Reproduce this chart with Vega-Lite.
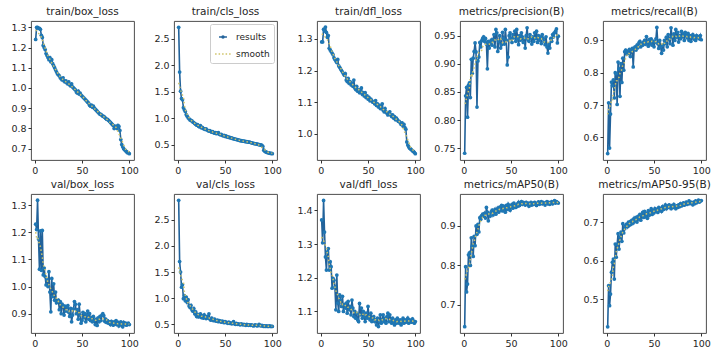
{
"$schema":"https://vega.github.io/schema/vega-lite/v6.json",
"background":"white",
"padding":{"left":10,"top":6,"right":5,"bottom":5},
"config":{"font":"DejaVu Sans","view":{"stroke":"#3a3a3a","strokeWidth":0.9},"axis":{"domain":false,"grid":false,"ticks":true,"tickSize":3,"tickColor":"#333333","labelFont":"DejaVu Sans","labelFontSize":9.5,"labelColor":"#262626","labelPadding":2,"labelFlush":false,"labelOverlap":false},"title":{"font":"DejaVu Sans","fontSize":10.5,"fontWeight":"normal","color":"#262626","offset":4,"anchor":"middle"}},
"datasets":{
"tbox":[{"epoch":1,"results":1.24},{"epoch":2,"results":1.30},{"epoch":3,"results":1.30},{"epoch":4,"results":1.295},{"epoch":5,"results":1.295},{"epoch":6,"results":1.29},{"epoch":7,"results":1.26},{"epoch":8,"results":1.25},{"epoch":9,"results":1.21},{"epoch":10,"results":1.20},{"epoch":11,"results":1.19},{"epoch":12,"results":1.17},{"epoch":13,"results":1.16},{"epoch":14,"results":1.15},{"epoch":15,"results":1.14},{"epoch":16,"results":1.15},{"epoch":17,"results":1.13},{"epoch":18,"results":1.14},{"epoch":19,"results":1.12},{"epoch":20,"results":1.11},{"epoch":21,"results":1.10},{"epoch":22,"results":1.09},{"epoch":23,"results":1.08},{"epoch":24,"results":1.07},{"epoch":25,"results":1.065},{"epoch":26,"results":1.06},{"epoch":27,"results":1.05},{"epoch":28,"results":1.045},{"epoch":29,"results":1.04},{"epoch":30,"results":1.05},{"epoch":31,"results":1.035},{"epoch":32,"results":1.03},{"epoch":33,"results":1.035},{"epoch":34,"results":1.025},{"epoch":35,"results":1.02},{"epoch":36,"results":1.03},{"epoch":37,"results":1.015},{"epoch":38,"results":1.01},{"epoch":39,"results":1.02},{"epoch":40,"results":1.005},{"epoch":41,"results":1.00},{"epoch":42,"results":0.995},{"epoch":43,"results":0.99},{"epoch":44,"results":0.98},{"epoch":45,"results":0.975},{"epoch":46,"results":0.985},{"epoch":47,"results":0.97},{"epoch":48,"results":0.975},{"epoch":49,"results":0.965},{"epoch":50,"results":0.96},{"epoch":51,"results":0.955},{"epoch":52,"results":0.95},{"epoch":53,"results":0.945},{"epoch":54,"results":0.94},{"epoch":55,"results":0.935},{"epoch":56,"results":0.93},{"epoch":57,"results":0.925},{"epoch":58,"results":0.915},{"epoch":59,"results":0.91},{"epoch":60,"results":0.915},{"epoch":61,"results":0.905},{"epoch":62,"results":0.91},{"epoch":63,"results":0.90},{"epoch":64,"results":0.895},{"epoch":65,"results":0.89},{"epoch":66,"results":0.885},{"epoch":67,"results":0.88},{"epoch":68,"results":0.875},{"epoch":69,"results":0.87},{"epoch":70,"results":0.87},{"epoch":71,"results":0.865},{"epoch":72,"results":0.86},{"epoch":73,"results":0.86},{"epoch":74,"results":0.855},{"epoch":75,"results":0.85},{"epoch":76,"results":0.845},{"epoch":77,"results":0.845},{"epoch":78,"results":0.84},{"epoch":79,"results":0.835},{"epoch":80,"results":0.83},{"epoch":81,"results":0.825},{"epoch":82,"results":0.82},{"epoch":83,"results":0.815},{"epoch":84,"results":0.80},{"epoch":85,"results":0.81},{"epoch":86,"results":0.81},{"epoch":87,"results":0.80},{"epoch":88,"results":0.815},{"epoch":89,"results":0.81},{"epoch":90,"results":0.79},{"epoch":91,"results":0.745},{"epoch":92,"results":0.72},{"epoch":93,"results":0.71},{"epoch":94,"results":0.70},{"epoch":95,"results":0.695},{"epoch":96,"results":0.69},{"epoch":97,"results":0.685},{"epoch":98,"results":0.68},{"epoch":99,"results":0.68},{"epoch":100,"results":0.675}],
"tcls":[{"epoch":1,"results":2.71},{"epoch":2,"results":1.87},{"epoch":3,"results":1.51},{"epoch":4,"results":1.37},{"epoch":5,"results":1.35},{"epoch":6,"results":1.20},{"epoch":7,"results":1.16},{"epoch":8,"results":1.13},{"epoch":9,"results":1.07},{"epoch":10,"results":1.04},{"epoch":11,"results":1.01},{"epoch":12,"results":0.99},{"epoch":13,"results":0.97},{"epoch":14,"results":0.96},{"epoch":15,"results":0.95},{"epoch":16,"results":0.93},{"epoch":17,"results":0.92},{"epoch":18,"results":0.90},{"epoch":19,"results":0.89},{"epoch":20,"results":0.87},{"epoch":21,"results":0.88},{"epoch":22,"results":0.85},{"epoch":23,"results":0.84},{"epoch":24,"results":0.86},{"epoch":25,"results":0.82},{"epoch":26,"results":0.83},{"epoch":27,"results":0.81},{"epoch":28,"results":0.80},{"epoch":29,"results":0.79},{"epoch":30,"results":0.80},{"epoch":31,"results":0.78},{"epoch":32,"results":0.77},{"epoch":33,"results":0.76},{"epoch":34,"results":0.77},{"epoch":35,"results":0.75},{"epoch":36,"results":0.74},{"epoch":37,"results":0.75},{"epoch":38,"results":0.73},{"epoch":39,"results":0.72},{"epoch":40,"results":0.73},{"epoch":41,"results":0.71},{"epoch":42,"results":0.72},{"epoch":43,"results":0.73},{"epoch":44,"results":0.70},{"epoch":45,"results":0.69},{"epoch":46,"results":0.70},{"epoch":47,"results":0.68},{"epoch":48,"results":0.67},{"epoch":49,"results":0.68},{"epoch":50,"results":0.66},{"epoch":51,"results":0.67},{"epoch":52,"results":0.65},{"epoch":53,"results":0.65},{"epoch":54,"results":0.64},{"epoch":55,"results":0.64},{"epoch":56,"results":0.63},{"epoch":57,"results":0.63},{"epoch":58,"results":0.62},{"epoch":59,"results":0.62},{"epoch":60,"results":0.61},{"epoch":61,"results":0.61},{"epoch":62,"results":0.60},{"epoch":63,"results":0.60},{"epoch":64,"results":0.59},{"epoch":65,"results":0.59},{"epoch":66,"results":0.58},{"epoch":67,"results":0.58},{"epoch":68,"results":0.575},{"epoch":69,"results":0.57},{"epoch":70,"results":0.57},{"epoch":71,"results":0.565},{"epoch":72,"results":0.56},{"epoch":73,"results":0.56},{"epoch":74,"results":0.555},{"epoch":75,"results":0.55},{"epoch":76,"results":0.55},{"epoch":77,"results":0.545},{"epoch":78,"results":0.54},{"epoch":79,"results":0.535},{"epoch":80,"results":0.53},{"epoch":81,"results":0.525},{"epoch":82,"results":0.52},{"epoch":83,"results":0.52},{"epoch":84,"results":0.515},{"epoch":85,"results":0.51},{"epoch":86,"results":0.505},{"epoch":87,"results":0.50},{"epoch":88,"results":0.50},{"epoch":89,"results":0.49},{"epoch":90,"results":0.47},{"epoch":91,"results":0.40},{"epoch":92,"results":0.38},{"epoch":93,"results":0.37},{"epoch":94,"results":0.36},{"epoch":95,"results":0.355},{"epoch":96,"results":0.35},{"epoch":97,"results":0.345},{"epoch":98,"results":0.34},{"epoch":99,"results":0.34},{"epoch":100,"results":0.335}],
"tdfl":[{"epoch":1,"results":1.29},{"epoch":2,"results":1.29},{"epoch":3,"results":1.33},{"epoch":4,"results":1.325},{"epoch":5,"results":1.337},{"epoch":6,"results":1.32},{"epoch":7,"results":1.305},{"epoch":8,"results":1.31},{"epoch":9,"results":1.27},{"epoch":10,"results":1.265},{"epoch":11,"results":1.26},{"epoch":12,"results":1.255},{"epoch":13,"results":1.25},{"epoch":14,"results":1.24},{"epoch":15,"results":1.235},{"epoch":16,"results":1.23},{"epoch":17,"results":1.225},{"epoch":18,"results":1.235},{"epoch":19,"results":1.215},{"epoch":20,"results":1.21},{"epoch":21,"results":1.205},{"epoch":22,"results":1.20},{"epoch":23,"results":1.195},{"epoch":24,"results":1.19},{"epoch":25,"results":1.185},{"epoch":26,"results":1.19},{"epoch":27,"results":1.17},{"epoch":28,"results":1.165},{"epoch":29,"results":1.175},{"epoch":30,"results":1.16},{"epoch":31,"results":1.165},{"epoch":32,"results":1.155},{"epoch":33,"results":1.16},{"epoch":34,"results":1.15},{"epoch":35,"results":1.17},{"epoch":36,"results":1.145},{"epoch":37,"results":1.14},{"epoch":38,"results":1.15},{"epoch":39,"results":1.135},{"epoch":40,"results":1.14},{"epoch":41,"results":1.13},{"epoch":42,"results":1.135},{"epoch":43,"results":1.145},{"epoch":44,"results":1.125},{"epoch":45,"results":1.13},{"epoch":46,"results":1.12},{"epoch":47,"results":1.13},{"epoch":48,"results":1.115},{"epoch":49,"results":1.12},{"epoch":50,"results":1.11},{"epoch":51,"results":1.115},{"epoch":52,"results":1.105},{"epoch":53,"results":1.11},{"epoch":54,"results":1.105},{"epoch":55,"results":1.10},{"epoch":56,"results":1.10},{"epoch":57,"results":1.095},{"epoch":58,"results":1.105},{"epoch":59,"results":1.09},{"epoch":60,"results":1.095},{"epoch":61,"results":1.085},{"epoch":62,"results":1.09},{"epoch":63,"results":1.08},{"epoch":64,"results":1.085},{"epoch":65,"results":1.095},{"epoch":66,"results":1.075},{"epoch":67,"results":1.07},{"epoch":68,"results":1.08},{"epoch":69,"results":1.07},{"epoch":70,"results":1.065},{"epoch":71,"results":1.06},{"epoch":72,"results":1.065},{"epoch":73,"results":1.07},{"epoch":74,"results":1.06},{"epoch":75,"results":1.055},{"epoch":76,"results":1.06},{"epoch":77,"results":1.05},{"epoch":78,"results":1.055},{"epoch":79,"results":1.045},{"epoch":80,"results":1.05},{"epoch":81,"results":1.045},{"epoch":82,"results":1.04},{"epoch":83,"results":1.04},{"epoch":84,"results":1.035},{"epoch":85,"results":1.03},{"epoch":86,"results":1.035},{"epoch":87,"results":1.025},{"epoch":88,"results":1.03},{"epoch":89,"results":1.02},{"epoch":90,"results":1.015},{"epoch":91,"results":0.975},{"epoch":92,"results":0.965},{"epoch":93,"results":0.96},{"epoch":94,"results":0.955},{"epoch":95,"results":0.953},{"epoch":96,"results":0.95},{"epoch":97,"results":0.947},{"epoch":98,"results":0.945},{"epoch":99,"results":0.942},{"epoch":100,"results":0.938}],
"prec":[{"epoch":1,"results":0.741},{"epoch":2,"results":0.843},{"epoch":3,"results":0.858},{"epoch":4,"results":0.805},{"epoch":5,"results":0.862},{"epoch":6,"results":0.866},{"epoch":7,"results":0.840},{"epoch":8,"results":0.908},{"epoch":9,"results":0.883},{"epoch":10,"results":0.910},{"epoch":11,"results":0.922},{"epoch":12,"results":0.937},{"epoch":13,"results":0.921},{"epoch":14,"results":0.823},{"epoch":15,"results":0.905},{"epoch":16,"results":0.912},{"epoch":17,"results":0.938},{"epoch":18,"results":0.930},{"epoch":19,"results":0.941},{"epoch":20,"results":0.945},{"epoch":21,"results":0.948},{"epoch":22,"results":0.940},{"epoch":23,"results":0.945},{"epoch":24,"results":0.935},{"epoch":25,"results":0.891},{"epoch":26,"results":0.940},{"epoch":27,"results":0.928},{"epoch":28,"results":0.937},{"epoch":29,"results":0.942},{"epoch":30,"results":0.933},{"epoch":31,"results":0.943},{"epoch":32,"results":0.952},{"epoch":33,"results":0.930},{"epoch":34,"results":0.961},{"epoch":35,"results":0.955},{"epoch":36,"results":0.922},{"epoch":37,"results":0.940},{"epoch":38,"results":0.950},{"epoch":39,"results":0.928},{"epoch":40,"results":0.934},{"epoch":41,"results":0.956},{"epoch":42,"results":0.945},{"epoch":43,"results":0.935},{"epoch":44,"results":0.961},{"epoch":45,"results":0.942},{"epoch":46,"results":0.898},{"epoch":47,"results":0.912},{"epoch":48,"results":0.950},{"epoch":49,"results":0.955},{"epoch":50,"results":0.945},{"epoch":51,"results":0.938},{"epoch":52,"results":0.952},{"epoch":53,"results":0.946},{"epoch":54,"results":0.958},{"epoch":55,"results":0.940},{"epoch":56,"results":0.961},{"epoch":57,"results":0.945},{"epoch":58,"results":0.934},{"epoch":59,"results":0.950},{"epoch":60,"results":0.942},{"epoch":61,"results":0.955},{"epoch":62,"results":0.948},{"epoch":63,"results":0.938},{"epoch":64,"results":0.945},{"epoch":65,"results":0.928},{"epoch":66,"results":0.950},{"epoch":67,"results":0.964},{"epoch":68,"results":0.943},{"epoch":69,"results":0.940},{"epoch":70,"results":0.952},{"epoch":71,"results":0.946},{"epoch":72,"results":0.935},{"epoch":73,"results":0.948},{"epoch":74,"results":0.940},{"epoch":75,"results":0.955},{"epoch":76,"results":0.945},{"epoch":77,"results":0.958},{"epoch":78,"results":0.938},{"epoch":79,"results":0.950},{"epoch":80,"results":0.942},{"epoch":81,"results":0.948},{"epoch":82,"results":0.936},{"epoch":83,"results":0.952},{"epoch":84,"results":0.945},{"epoch":85,"results":0.940},{"epoch":86,"results":0.934},{"epoch":87,"results":0.948},{"epoch":88,"results":0.930},{"epoch":89,"results":0.919},{"epoch":90,"results":0.935},{"epoch":91,"results":0.928},{"epoch":92,"results":0.945},{"epoch":93,"results":0.940},{"epoch":94,"results":0.952},{"epoch":95,"results":0.948},{"epoch":96,"results":0.955},{"epoch":97,"results":0.958},{"epoch":98,"results":0.962},{"epoch":99,"results":0.937},{"epoch":100,"results":0.949}],
"rec":[{"epoch":1,"results":0.550},{"epoch":2,"results":0.707},{"epoch":3,"results":0.567},{"epoch":4,"results":0.672},{"epoch":5,"results":0.771},{"epoch":6,"results":0.760},{"epoch":7,"results":0.778},{"epoch":8,"results":0.722},{"epoch":9,"results":0.800},{"epoch":10,"results":0.797},{"epoch":11,"results":0.702},{"epoch":12,"results":0.833},{"epoch":13,"results":0.812},{"epoch":14,"results":0.727},{"epoch":15,"results":0.828},{"epoch":16,"results":0.770},{"epoch":17,"results":0.845},{"epoch":18,"results":0.808},{"epoch":19,"results":0.865},{"epoch":20,"results":0.870},{"epoch":21,"results":0.858},{"epoch":22,"results":0.866},{"epoch":23,"results":0.860},{"epoch":24,"results":0.872},{"epoch":25,"results":0.850},{"epoch":26,"results":0.868},{"epoch":27,"results":0.875},{"epoch":28,"results":0.818},{"epoch":29,"results":0.876},{"epoch":30,"results":0.880},{"epoch":31,"results":0.870},{"epoch":32,"results":0.885},{"epoch":33,"results":0.878},{"epoch":34,"results":0.892},{"epoch":35,"results":0.897},{"epoch":36,"results":0.880},{"epoch":37,"results":0.890},{"epoch":38,"results":0.885},{"epoch":39,"results":0.895},{"epoch":40,"results":0.900},{"epoch":41,"results":0.888},{"epoch":42,"results":0.912},{"epoch":43,"results":0.895},{"epoch":44,"results":0.882},{"epoch":45,"results":0.903},{"epoch":46,"results":0.890},{"epoch":47,"results":0.905},{"epoch":48,"results":0.885},{"epoch":49,"results":0.898},{"epoch":50,"results":0.880},{"epoch":51,"results":0.895},{"epoch":52,"results":0.905},{"epoch":53,"results":0.940},{"epoch":54,"results":0.890},{"epoch":55,"results":0.875},{"epoch":56,"results":0.900},{"epoch":57,"results":0.880},{"epoch":58,"results":0.860},{"epoch":59,"results":0.885},{"epoch":60,"results":0.870},{"epoch":61,"results":0.900},{"epoch":62,"results":0.890},{"epoch":63,"results":0.910},{"epoch":64,"results":0.880},{"epoch":65,"results":0.918},{"epoch":66,"results":0.905},{"epoch":67,"results":0.890},{"epoch":68,"results":0.939},{"epoch":69,"results":0.912},{"epoch":70,"results":0.885},{"epoch":71,"results":0.920},{"epoch":72,"results":0.900},{"epoch":73,"results":0.934},{"epoch":74,"results":0.910},{"epoch":75,"results":0.925},{"epoch":76,"results":0.895},{"epoch":77,"results":0.915},{"epoch":78,"results":0.905},{"epoch":79,"results":0.928},{"epoch":80,"results":0.912},{"epoch":81,"results":0.920},{"epoch":82,"results":0.900},{"epoch":83,"results":0.925},{"epoch":84,"results":0.915},{"epoch":85,"results":0.908},{"epoch":86,"results":0.922},{"epoch":87,"results":0.900},{"epoch":88,"results":0.915},{"epoch":89,"results":0.897},{"epoch":90,"results":0.910},{"epoch":91,"results":0.918},{"epoch":92,"results":0.905},{"epoch":93,"results":0.912},{"epoch":94,"results":0.900},{"epoch":95,"results":0.915},{"epoch":96,"results":0.908},{"epoch":97,"results":0.912},{"epoch":98,"results":0.905},{"epoch":99,"results":0.915},{"epoch":100,"results":0.902}],
"vbox":[{"epoch":1,"results":1.230},{"epoch":2,"results":1.210},{"epoch":3,"results":1.318},{"epoch":4,"results":1.175},{"epoch":5,"results":1.064},{"epoch":6,"results":1.205},{"epoch":7,"results":1.060},{"epoch":8,"results":1.207},{"epoch":9,"results":1.043},{"epoch":10,"results":1.068},{"epoch":11,"results":1.037},{"epoch":12,"results":1.006},{"epoch":13,"results":1.025},{"epoch":14,"results":1.000},{"epoch":15,"results":1.055},{"epoch":16,"results":0.980},{"epoch":17,"results":0.907},{"epoch":18,"results":1.030},{"epoch":19,"results":0.963},{"epoch":20,"results":1.010},{"epoch":21,"results":0.950},{"epoch":22,"results":0.980},{"epoch":23,"results":0.940},{"epoch":24,"results":0.945},{"epoch":25,"results":0.950},{"epoch":26,"results":0.915},{"epoch":27,"results":0.945},{"epoch":28,"results":0.900},{"epoch":29,"results":0.935},{"epoch":30,"results":0.930},{"epoch":31,"results":0.895},{"epoch":32,"results":0.928},{"epoch":33,"results":0.910},{"epoch":34,"results":0.925},{"epoch":35,"results":0.930},{"epoch":36,"results":0.905},{"epoch":37,"results":0.890},{"epoch":38,"results":0.920},{"epoch":39,"results":0.870},{"epoch":40,"results":0.895},{"epoch":41,"results":0.918},{"epoch":42,"results":0.945},{"epoch":43,"results":0.935},{"epoch":44,"results":0.900},{"epoch":45,"results":0.915},{"epoch":46,"results":0.880},{"epoch":47,"results":0.935},{"epoch":48,"results":0.895},{"epoch":49,"results":0.865},{"epoch":50,"results":0.875},{"epoch":51,"results":0.905},{"epoch":52,"results":0.885},{"epoch":53,"results":0.900},{"epoch":54,"results":0.870},{"epoch":55,"results":0.895},{"epoch":56,"results":0.910},{"epoch":57,"results":0.880},{"epoch":58,"results":0.900},{"epoch":59,"results":0.875},{"epoch":60,"results":0.885},{"epoch":61,"results":0.870},{"epoch":62,"results":0.890},{"epoch":63,"results":0.875},{"epoch":64,"results":0.860},{"epoch":65,"results":0.880},{"epoch":66,"results":0.857},{"epoch":67,"results":0.885},{"epoch":68,"results":0.870},{"epoch":69,"results":0.890},{"epoch":70,"results":0.875},{"epoch":71,"results":0.895},{"epoch":72,"results":0.900},{"epoch":73,"results":0.893},{"epoch":74,"results":0.872},{"epoch":75,"results":0.880},{"epoch":76,"results":0.868},{"epoch":77,"results":0.875},{"epoch":78,"results":0.865},{"epoch":79,"results":0.870},{"epoch":80,"results":0.860},{"epoch":81,"results":0.872},{"epoch":82,"results":0.865},{"epoch":83,"results":0.858},{"epoch":84,"results":0.870},{"epoch":85,"results":0.862},{"epoch":86,"results":0.875},{"epoch":87,"results":0.860},{"epoch":88,"results":0.868},{"epoch":89,"results":0.855},{"epoch":90,"results":0.865},{"epoch":91,"results":0.870},{"epoch":92,"results":0.858},{"epoch":93,"results":0.852},{"epoch":94,"results":0.868},{"epoch":95,"results":0.860},{"epoch":96,"results":0.865},{"epoch":97,"results":0.858},{"epoch":98,"results":0.862},{"epoch":99,"results":0.865},{"epoch":100,"results":0.860}],
"vcls":[{"epoch":1,"results":2.87},{"epoch":2,"results":1.70},{"epoch":3,"results":1.50},{"epoch":4,"results":1.21},{"epoch":5,"results":1.26},{"epoch":6,"results":0.99},{"epoch":7,"results":1.05},{"epoch":8,"results":0.95},{"epoch":9,"results":1.02},{"epoch":10,"results":0.92},{"epoch":11,"results":0.97},{"epoch":12,"results":0.85},{"epoch":13,"results":0.82},{"epoch":14,"results":0.86},{"epoch":15,"results":0.78},{"epoch":16,"results":0.75},{"epoch":17,"results":0.80},{"epoch":18,"results":0.70},{"epoch":19,"results":0.74},{"epoch":20,"results":0.65},{"epoch":21,"results":0.69},{"epoch":22,"results":0.64},{"epoch":23,"results":0.67},{"epoch":24,"results":0.70},{"epoch":25,"results":0.63},{"epoch":26,"results":0.66},{"epoch":27,"results":0.62},{"epoch":28,"results":0.68},{"epoch":29,"results":0.63},{"epoch":30,"results":0.61},{"epoch":31,"results":0.65},{"epoch":32,"results":0.62},{"epoch":33,"results":0.70},{"epoch":34,"results":0.60},{"epoch":35,"results":0.58},{"epoch":36,"results":0.62},{"epoch":37,"results":0.59},{"epoch":38,"results":0.57},{"epoch":39,"results":0.60},{"epoch":40,"results":0.57},{"epoch":41,"results":0.56},{"epoch":42,"results":0.58},{"epoch":43,"results":0.55},{"epoch":44,"results":0.57},{"epoch":45,"results":0.56},{"epoch":46,"results":0.54},{"epoch":47,"results":0.56},{"epoch":48,"results":0.55},{"epoch":49,"results":0.53},{"epoch":50,"results":0.55},{"epoch":51,"results":0.54},{"epoch":52,"results":0.53},{"epoch":53,"results":0.52},{"epoch":54,"results":0.54},{"epoch":55,"results":0.52},{"epoch":56,"results":0.53},{"epoch":57,"results":0.51},{"epoch":58,"results":0.52},{"epoch":59,"results":0.55},{"epoch":60,"results":0.51},{"epoch":61,"results":0.50},{"epoch":62,"results":0.52},{"epoch":63,"results":0.50},{"epoch":64,"results":0.51},{"epoch":65,"results":0.50},{"epoch":66,"results":0.49},{"epoch":67,"results":0.51},{"epoch":68,"results":0.50},{"epoch":69,"results":0.49},{"epoch":70,"results":0.50},{"epoch":71,"results":0.49},{"epoch":72,"results":0.48},{"epoch":73,"results":0.50},{"epoch":74,"results":0.49},{"epoch":75,"results":0.48},{"epoch":76,"results":0.49},{"epoch":77,"results":0.48},{"epoch":78,"results":0.49},{"epoch":79,"results":0.48},{"epoch":80,"results":0.47},{"epoch":81,"results":0.48},{"epoch":82,"results":0.49},{"epoch":83,"results":0.48},{"epoch":84,"results":0.47},{"epoch":85,"results":0.48},{"epoch":86,"results":0.50},{"epoch":87,"results":0.48},{"epoch":88,"results":0.47},{"epoch":89,"results":0.48},{"epoch":90,"results":0.47},{"epoch":91,"results":0.46},{"epoch":92,"results":0.47},{"epoch":93,"results":0.46},{"epoch":94,"results":0.47},{"epoch":95,"results":0.46},{"epoch":96,"results":0.46},{"epoch":97,"results":0.47},{"epoch":98,"results":0.46},{"epoch":99,"results":0.46},{"epoch":100,"results":0.46}],
"vdfl":[{"epoch":1,"results":1.372},{"epoch":2,"results":1.304},{"epoch":3,"results":1.430},{"epoch":4,"results":1.336},{"epoch":5,"results":1.262},{"epoch":6,"results":1.223},{"epoch":7,"results":1.277},{"epoch":8,"results":1.287},{"epoch":9,"results":1.223},{"epoch":10,"results":1.248},{"epoch":11,"results":1.233},{"epoch":12,"results":1.169},{"epoch":13,"results":1.198},{"epoch":14,"results":1.193},{"epoch":15,"results":1.173},{"epoch":16,"results":1.105},{"epoch":17,"results":1.208},{"epoch":18,"results":1.125},{"epoch":19,"results":1.100},{"epoch":20,"results":1.149},{"epoch":21,"results":1.134},{"epoch":22,"results":1.115},{"epoch":23,"results":1.145},{"epoch":24,"results":1.100},{"epoch":25,"results":1.120},{"epoch":26,"results":1.110},{"epoch":27,"results":1.125},{"epoch":28,"results":1.095},{"epoch":29,"results":1.130},{"epoch":30,"results":1.105},{"epoch":31,"results":1.115},{"epoch":32,"results":1.090},{"epoch":33,"results":1.134},{"epoch":34,"results":1.110},{"epoch":35,"results":1.085},{"epoch":36,"results":1.100},{"epoch":37,"results":1.080},{"epoch":38,"results":1.095},{"epoch":39,"results":1.075},{"epoch":40,"results":1.070},{"epoch":41,"results":1.124},{"epoch":42,"results":1.090},{"epoch":43,"results":1.110},{"epoch":44,"results":1.080},{"epoch":45,"results":1.100},{"epoch":46,"results":1.085},{"epoch":47,"results":1.070},{"epoch":48,"results":1.095},{"epoch":49,"results":1.080},{"epoch":50,"results":1.115},{"epoch":51,"results":1.085},{"epoch":52,"results":1.075},{"epoch":53,"results":1.095},{"epoch":54,"results":1.070},{"epoch":55,"results":1.080},{"epoch":56,"results":1.085},{"epoch":57,"results":1.070},{"epoch":58,"results":1.075},{"epoch":59,"results":1.060},{"epoch":60,"results":1.080},{"epoch":61,"results":1.055},{"epoch":62,"results":1.070},{"epoch":63,"results":1.090},{"epoch":64,"results":1.065},{"epoch":65,"results":1.075},{"epoch":66,"results":1.090},{"epoch":67,"results":1.070},{"epoch":68,"results":1.080},{"epoch":69,"results":1.065},{"epoch":70,"results":1.085},{"epoch":71,"results":1.095},{"epoch":72,"results":1.070},{"epoch":73,"results":1.090},{"epoch":74,"results":1.075},{"epoch":75,"results":1.065},{"epoch":76,"results":1.080},{"epoch":77,"results":1.070},{"epoch":78,"results":1.060},{"epoch":79,"results":1.075},{"epoch":80,"results":1.065},{"epoch":81,"results":1.080},{"epoch":82,"results":1.070},{"epoch":83,"results":1.065},{"epoch":84,"results":1.075},{"epoch":85,"results":1.060},{"epoch":86,"results":1.070},{"epoch":87,"results":1.080},{"epoch":88,"results":1.065},{"epoch":89,"results":1.075},{"epoch":90,"results":1.068},{"epoch":91,"results":1.072},{"epoch":92,"results":1.080},{"epoch":93,"results":1.065},{"epoch":94,"results":1.075},{"epoch":95,"results":1.070},{"epoch":96,"results":1.068},{"epoch":97,"results":1.078},{"epoch":98,"results":1.072},{"epoch":99,"results":1.065},{"epoch":100,"results":1.070}],
"m50":[{"epoch":1,"results":0.645},{"epoch":2,"results":0.797},{"epoch":3,"results":0.733},{"epoch":4,"results":0.753},{"epoch":5,"results":0.827},{"epoch":6,"results":0.832},{"epoch":7,"results":0.800},{"epoch":8,"results":0.870},{"epoch":9,"results":0.849},{"epoch":10,"results":0.823},{"epoch":11,"results":0.874},{"epoch":12,"results":0.850},{"epoch":13,"results":0.900},{"epoch":14,"results":0.879},{"epoch":15,"results":0.904},{"epoch":16,"results":0.885},{"epoch":17,"results":0.921},{"epoch":18,"results":0.917},{"epoch":19,"results":0.926},{"epoch":20,"results":0.930},{"epoch":21,"results":0.925},{"epoch":22,"results":0.932},{"epoch":23,"results":0.920},{"epoch":24,"results":0.947},{"epoch":25,"results":0.935},{"epoch":26,"results":0.913},{"epoch":27,"results":0.930},{"epoch":28,"results":0.925},{"epoch":29,"results":0.936},{"epoch":30,"results":0.940},{"epoch":31,"results":0.928},{"epoch":32,"results":0.935},{"epoch":33,"results":0.942},{"epoch":34,"results":0.930},{"epoch":35,"results":0.938},{"epoch":36,"results":0.945},{"epoch":37,"results":0.935},{"epoch":38,"results":0.948},{"epoch":39,"results":0.940},{"epoch":40,"results":0.952},{"epoch":41,"results":0.938},{"epoch":42,"results":0.950},{"epoch":43,"results":0.945},{"epoch":44,"results":0.935},{"epoch":45,"results":0.952},{"epoch":46,"results":0.942},{"epoch":47,"results":0.955},{"epoch":48,"results":0.948},{"epoch":49,"results":0.940},{"epoch":50,"results":0.950},{"epoch":51,"results":0.955},{"epoch":52,"results":0.945},{"epoch":53,"results":0.958},{"epoch":54,"results":0.950},{"epoch":55,"results":0.947},{"epoch":56,"results":0.955},{"epoch":57,"results":0.950},{"epoch":58,"results":0.960},{"epoch":59,"results":0.952},{"epoch":60,"results":0.958},{"epoch":61,"results":0.962},{"epoch":62,"results":0.955},{"epoch":63,"results":0.960},{"epoch":64,"results":0.957},{"epoch":65,"results":0.953},{"epoch":66,"results":0.960},{"epoch":67,"results":0.955},{"epoch":68,"results":0.958},{"epoch":69,"results":0.950},{"epoch":70,"results":0.956},{"epoch":71,"results":0.960},{"epoch":72,"results":0.953},{"epoch":73,"results":0.958},{"epoch":74,"results":0.955},{"epoch":75,"results":0.960},{"epoch":76,"results":0.957},{"epoch":77,"results":0.952},{"epoch":78,"results":0.958},{"epoch":79,"results":0.961},{"epoch":80,"results":0.955},{"epoch":81,"results":0.958},{"epoch":82,"results":0.962},{"epoch":83,"results":0.956},{"epoch":84,"results":0.960},{"epoch":85,"results":0.957},{"epoch":86,"results":0.953},{"epoch":87,"results":0.959},{"epoch":88,"results":0.962},{"epoch":89,"results":0.956},{"epoch":90,"results":0.960},{"epoch":91,"results":0.955},{"epoch":92,"results":0.958},{"epoch":93,"results":0.962},{"epoch":94,"results":0.956},{"epoch":95,"results":0.960},{"epoch":96,"results":0.964},{"epoch":97,"results":0.958},{"epoch":98,"results":0.962},{"epoch":99,"results":0.960},{"epoch":100,"results":0.958}],
"m5095":[{"epoch":1,"results":0.428},{"epoch":2,"results":0.535},{"epoch":3,"results":0.483},{"epoch":4,"results":0.513},{"epoch":5,"results":0.570},{"epoch":6,"results":0.596},{"epoch":7,"results":0.604},{"epoch":8,"results":0.552},{"epoch":9,"results":0.643},{"epoch":10,"results":0.609},{"epoch":11,"results":0.642},{"epoch":12,"results":0.670},{"epoch":13,"results":0.630},{"epoch":14,"results":0.661},{"epoch":15,"results":0.674},{"epoch":16,"results":0.650},{"epoch":17,"results":0.696},{"epoch":18,"results":0.672},{"epoch":19,"results":0.683},{"epoch":20,"results":0.691},{"epoch":21,"results":0.695},{"epoch":22,"results":0.688},{"epoch":23,"results":0.700},{"epoch":24,"results":0.692},{"epoch":25,"results":0.702},{"epoch":26,"results":0.695},{"epoch":27,"results":0.705},{"epoch":28,"results":0.698},{"epoch":29,"results":0.710},{"epoch":30,"results":0.703},{"epoch":31,"results":0.712},{"epoch":32,"results":0.700},{"epoch":33,"results":0.715},{"epoch":34,"results":0.708},{"epoch":35,"results":0.720},{"epoch":36,"results":0.705},{"epoch":37,"results":0.718},{"epoch":38,"results":0.725},{"epoch":39,"results":0.712},{"epoch":40,"results":0.728},{"epoch":41,"results":0.715},{"epoch":42,"results":0.722},{"epoch":43,"results":0.710},{"epoch":44,"results":0.730},{"epoch":45,"results":0.718},{"epoch":46,"results":0.725},{"epoch":47,"results":0.735},{"epoch":48,"results":0.720},{"epoch":49,"results":0.730},{"epoch":50,"results":0.724},{"epoch":51,"results":0.735},{"epoch":52,"results":0.728},{"epoch":53,"results":0.733},{"epoch":54,"results":0.725},{"epoch":55,"results":0.738},{"epoch":56,"results":0.730},{"epoch":57,"results":0.735},{"epoch":58,"results":0.728},{"epoch":59,"results":0.740},{"epoch":60,"results":0.733},{"epoch":61,"results":0.738},{"epoch":62,"results":0.745},{"epoch":63,"results":0.735},{"epoch":64,"results":0.742},{"epoch":65,"results":0.738},{"epoch":66,"results":0.745},{"epoch":67,"results":0.740},{"epoch":68,"results":0.735},{"epoch":69,"results":0.743},{"epoch":70,"results":0.738},{"epoch":71,"results":0.746},{"epoch":72,"results":0.740},{"epoch":73,"results":0.735},{"epoch":74,"results":0.742},{"epoch":75,"results":0.738},{"epoch":76,"results":0.745},{"epoch":77,"results":0.740},{"epoch":78,"results":0.748},{"epoch":79,"results":0.742},{"epoch":80,"results":0.745},{"epoch":81,"results":0.750},{"epoch":82,"results":0.744},{"epoch":83,"results":0.748},{"epoch":84,"results":0.752},{"epoch":85,"results":0.746},{"epoch":86,"results":0.750},{"epoch":87,"results":0.755},{"epoch":88,"results":0.748},{"epoch":89,"results":0.752},{"epoch":90,"results":0.750},{"epoch":91,"results":0.745},{"epoch":92,"results":0.752},{"epoch":93,"results":0.748},{"epoch":94,"results":0.755},{"epoch":95,"results":0.750},{"epoch":96,"results":0.753},{"epoch":97,"results":0.757},{"epoch":98,"results":0.752},{"epoch":99,"results":0.755},{"epoch":100,"results":0.756}]
},
"vconcat":[
{"hconcat":[
{"title":"train/box_loss","width":103,"height":139,"data":{"name":"tbox"},
"transform":[{"window":[{"op":"mean","field":"results","as":"smooth"}],"sort":[{"field":"epoch"}],"frame":[-5,5]},{"fold":["results","smooth"],"as":["series","y"]}],
"encoding":{"x":{"field":"epoch","type":"quantitative","scale":{"domain":[-3.95,104.95],"nice":false,"zero":false},"axis":{"values":[0,50,100],"title":null}},
"y":{"field":"y","type":"quantitative","scale":{"domain":[0.644,1.331],"nice":false,"zero":false},"axis":{"values":[0.7,0.8,0.9,1.0,1.1,1.2,1.3],"format":".1f","title":null}}},
"layer":[
{"transform":[{"filter":"datum.series==='results'"}],"mark":{"type":"line","color":"#22629a","strokeWidth":1.6}},
{"transform":[{"filter":"datum.series==='results'"}],"mark":{"type":"point","filled":true,"color":"#1f77b4","size":14,"opacity":1}},
{"transform":[{"filter":"datum.series==='smooth'"}],"mark":{"type":"line","color":"#cfc368","strokeWidth":1.5,"strokeDash":[1.5,2.5]}}]},
{"title":"train/cls_loss","width":103,"height":139,"data":{"name":"tcls"},
"transform":[{"window":[{"op":"mean","field":"results","as":"smooth"}],"sort":[{"field":"epoch"}],"frame":[-5,5]},{"fold":["results","smooth"],"as":["series","y"]}],
"encoding":{"x":{"field":"epoch","type":"quantitative","scale":{"domain":[-3.95,104.95],"nice":false,"zero":false},"axis":{"values":[0,50,100],"title":null}},
"y":{"field":"y","type":"quantitative","scale":{"domain":[0.216,2.829],"nice":false,"zero":false},"axis":{"values":[0.5,1.0,1.5,2.0,2.5],"format":".1f","title":null}},
"color":{"field":"series","type":"nominal","scale":{"domain":["results","smooth"],"range":["#22629a","#cfc368"]},"legend":{"title":null,"orient":"top-right","offset":3,"labelFont":"DejaVu Sans","labelFontSize":9,"labelColor":"#262626","symbolType":"stroke","symbolStrokeWidth":1.6,"symbolSize":250,"strokeColor":"#cccccc","fillColor":"white","padding":4,"cornerRadius":2,"rowPadding":3,
"encode":{"symbols":{"update":{"strokeDash":{"signal":"datum.value==='smooth'?[1.5,2]:[]"},"shape":{"signal":"datum.value==='results'?'M-0.5,0L0.5,0M-0.12,0A0.12,0.12,0,1,1,0.12,0A0.12,0.12,0,1,1,-0.12,0':'stroke'"},"fill":{"signal":"datum.value==='results'?'#1f77b4':'transparent'"}}}}}}},
"layer":[
{"transform":[{"filter":"datum.series==='results'"}],"mark":{"type":"line","strokeWidth":1.6}},
{"transform":[{"filter":"datum.series==='results'"}],"mark":{"type":"point","filled":true,"size":14,"opacity":1},"encoding":{"color":{"value":"#1f77b4"}}},
{"transform":[{"filter":"datum.series==='smooth'"}],"mark":{"type":"line","strokeWidth":1.5,"strokeDash":[1.5,2.5]}}]},
{"title":"train/dfl_loss","width":103,"height":139,"data":{"name":"tdfl"},
"transform":[{"window":[{"op":"mean","field":"results","as":"smooth"}],"sort":[{"field":"epoch"}],"frame":[-5,5]},{"fold":["results","smooth"],"as":["series","y"]}],
"encoding":{"x":{"field":"epoch","type":"quantitative","scale":{"domain":[-3.95,104.95],"nice":false,"zero":false},"axis":{"values":[0,50,100],"title":null}},
"y":{"field":"y","type":"quantitative","scale":{"domain":[0.918,1.356],"nice":false,"zero":false},"axis":{"values":[1.0,1.1,1.2,1.3],"format":".1f","title":null}}},
"layer":[
{"transform":[{"filter":"datum.series==='results'"}],"mark":{"type":"line","color":"#22629a","strokeWidth":1.6}},
{"transform":[{"filter":"datum.series==='results'"}],"mark":{"type":"point","filled":true,"color":"#1f77b4","size":14,"opacity":1}},
{"transform":[{"filter":"datum.series==='smooth'"}],"mark":{"type":"line","color":"#cfc368","strokeWidth":1.5,"strokeDash":[1.5,2.5]}}]},
{"title":"metrics/precision(B)","width":103,"height":139,"data":{"name":"prec"},
"transform":[{"window":[{"op":"mean","field":"results","as":"smooth"}],"sort":[{"field":"epoch"}],"frame":[-5,5]},{"fold":["results","smooth"],"as":["series","y"]}],
"encoding":{"x":{"field":"epoch","type":"quantitative","scale":{"domain":[-3.95,104.95],"nice":false,"zero":false},"axis":{"values":[0,50,100],"title":null}},
"y":{"field":"y","type":"quantitative","scale":{"domain":[0.729,0.976],"nice":false,"zero":false},"axis":{"values":[0.75,0.8,0.85,0.9,0.95],"format":".2f","title":null}}},
"layer":[
{"transform":[{"filter":"datum.series==='results'"}],"mark":{"type":"line","color":"#22629a","strokeWidth":1.6}},
{"transform":[{"filter":"datum.series==='results'"}],"mark":{"type":"point","filled":true,"color":"#1f77b4","size":14,"opacity":1}},
{"transform":[{"filter":"datum.series==='smooth'"}],"mark":{"type":"line","color":"#cfc368","strokeWidth":1.5,"strokeDash":[1.5,2.5]}}]},
{"title":"metrics/recall(B)","width":103,"height":139,"data":{"name":"rec"},
"transform":[{"window":[{"op":"mean","field":"results","as":"smooth"}],"sort":[{"field":"epoch"}],"frame":[-5,5]},{"fold":["results","smooth"],"as":["series","y"]}],
"encoding":{"x":{"field":"epoch","type":"quantitative","scale":{"domain":[-3.95,104.95],"nice":false,"zero":false},"axis":{"values":[0,50,100],"title":null}},
"y":{"field":"y","type":"quantitative","scale":{"domain":[0.53,0.96],"nice":false,"zero":false},"axis":{"values":[0.6,0.7,0.8,0.9],"format":".1f","title":null}}},
"layer":[
{"transform":[{"filter":"datum.series==='results'"}],"mark":{"type":"line","color":"#22629a","strokeWidth":1.6}},
{"transform":[{"filter":"datum.series==='results'"}],"mark":{"type":"point","filled":true,"color":"#1f77b4","size":14,"opacity":1}},
{"transform":[{"filter":"datum.series==='smooth'"}],"mark":{"type":"line","color":"#cfc368","strokeWidth":1.5,"strokeDash":[1.5,2.5]}}]}
],"spacing":40,"bounds":"flush","resolve":{"scale":{"color":"independent"},"legend":{"color":"independent"}}},
{"hconcat":[
{"title":"val/box_loss","width":103,"height":139,"data":{"name":"vbox"},
"transform":[{"window":[{"op":"mean","field":"results","as":"smooth"}],"sort":[{"field":"epoch"}],"frame":[-5,5]},{"fold":["results","smooth"],"as":["series","y"]}],
"encoding":{"x":{"field":"epoch","type":"quantitative","scale":{"domain":[-3.95,104.95],"nice":false,"zero":false},"axis":{"values":[0,50,100],"title":null}},
"y":{"field":"y","type":"quantitative","scale":{"domain":[0.829,1.341],"nice":false,"zero":false},"axis":{"values":[0.9,1.0,1.1,1.2,1.3],"format":".1f","title":null}}},
"layer":[
{"transform":[{"filter":"datum.series==='results'"}],"mark":{"type":"line","color":"#22629a","strokeWidth":1.6}},
{"transform":[{"filter":"datum.series==='results'"}],"mark":{"type":"point","filled":true,"color":"#1f77b4","size":14,"opacity":1}},
{"transform":[{"filter":"datum.series==='smooth'"}],"mark":{"type":"line","color":"#cfc368","strokeWidth":1.5,"strokeDash":[1.5,2.5]}}]},
{"title":"val/cls_loss","width":103,"height":139,"data":{"name":"vcls"},
"transform":[{"window":[{"op":"mean","field":"results","as":"smooth"}],"sort":[{"field":"epoch"}],"frame":[-5,5]},{"fold":["results","smooth"],"as":["series","y"]}],
"encoding":{"x":{"field":"epoch","type":"quantitative","scale":{"domain":[-3.95,104.95],"nice":false,"zero":false},"axis":{"values":[0,50,100],"title":null}},
"y":{"field":"y","type":"quantitative","scale":{"domain":[0.334,2.991],"nice":false,"zero":false},"axis":{"values":[0.5,1.0,1.5,2.0,2.5],"format":".1f","title":null}}},
"layer":[
{"transform":[{"filter":"datum.series==='results'"}],"mark":{"type":"line","color":"#22629a","strokeWidth":1.6}},
{"transform":[{"filter":"datum.series==='results'"}],"mark":{"type":"point","filled":true,"color":"#1f77b4","size":14,"opacity":1}},
{"transform":[{"filter":"datum.series==='smooth'"}],"mark":{"type":"line","color":"#cfc368","strokeWidth":1.5,"strokeDash":[1.5,2.5]}}]},
{"title":"val/dfl_loss","width":103,"height":139,"data":{"name":"vdfl"},
"transform":[{"window":[{"op":"mean","field":"results","as":"smooth"}],"sort":[{"field":"epoch"}],"frame":[-5,5]},{"fold":["results","smooth"],"as":["series","y"]}],
"encoding":{"x":{"field":"epoch","type":"quantitative","scale":{"domain":[-3.95,104.95],"nice":false,"zero":false},"axis":{"values":[0,50,100],"title":null}},
"y":{"field":"y","type":"quantitative","scale":{"domain":[1.036,1.449],"nice":false,"zero":false},"axis":{"values":[1.1,1.2,1.3,1.4],"format":".1f","title":null}}},
"layer":[
{"transform":[{"filter":"datum.series==='results'"}],"mark":{"type":"line","color":"#22629a","strokeWidth":1.6}},
{"transform":[{"filter":"datum.series==='results'"}],"mark":{"type":"point","filled":true,"color":"#1f77b4","size":14,"opacity":1}},
{"transform":[{"filter":"datum.series==='smooth'"}],"mark":{"type":"line","color":"#cfc368","strokeWidth":1.5,"strokeDash":[1.5,2.5]}}]},
{"title":"metrics/mAP50(B)","width":103,"height":139,"data":{"name":"m50"},
"transform":[{"window":[{"op":"mean","field":"results","as":"smooth"}],"sort":[{"field":"epoch"}],"frame":[-5,5]},{"fold":["results","smooth"],"as":["series","y"]}],
"encoding":{"x":{"field":"epoch","type":"quantitative","scale":{"domain":[-3.95,104.95],"nice":false,"zero":false},"axis":{"values":[0,50,100],"title":null}},
"y":{"field":"y","type":"quantitative","scale":{"domain":[0.629,0.981],"nice":false,"zero":false},"axis":{"values":[0.7,0.8,0.9],"format":".1f","title":null}}},
"layer":[
{"transform":[{"filter":"datum.series==='results'"}],"mark":{"type":"line","color":"#22629a","strokeWidth":1.6}},
{"transform":[{"filter":"datum.series==='results'"}],"mark":{"type":"point","filled":true,"color":"#1f77b4","size":14,"opacity":1}},
{"transform":[{"filter":"datum.series==='smooth'"}],"mark":{"type":"line","color":"#cfc368","strokeWidth":1.5,"strokeDash":[1.5,2.5]}}]},
{"title":"metrics/mAP50-95(B)","width":103,"height":139,"data":{"name":"m5095"},
"transform":[{"window":[{"op":"mean","field":"results","as":"smooth"}],"sort":[{"field":"epoch"}],"frame":[-5,5]},{"fold":["results","smooth"],"as":["series","y"]}],
"encoding":{"x":{"field":"epoch","type":"quantitative","scale":{"domain":[-3.95,104.95],"nice":false,"zero":false},"axis":{"values":[0,50,100],"title":null}},
"y":{"field":"y","type":"quantitative","scale":{"domain":[0.412,0.773],"nice":false,"zero":false},"axis":{"values":[0.5,0.6,0.7],"format":".1f","title":null}}},
"layer":[
{"transform":[{"filter":"datum.series==='results'"}],"mark":{"type":"line","color":"#22629a","strokeWidth":1.6}},
{"transform":[{"filter":"datum.series==='results'"}],"mark":{"type":"point","filled":true,"color":"#1f77b4","size":14,"opacity":1}},
{"transform":[{"filter":"datum.series==='smooth'"}],"mark":{"type":"line","color":"#cfc368","strokeWidth":1.5,"strokeDash":[1.5,2.5]}}]}
],"spacing":40,"bounds":"flush"}
],
"spacing":4,"resolve":{"scale":{"color":"independent"},"legend":{"color":"independent"}}
}
